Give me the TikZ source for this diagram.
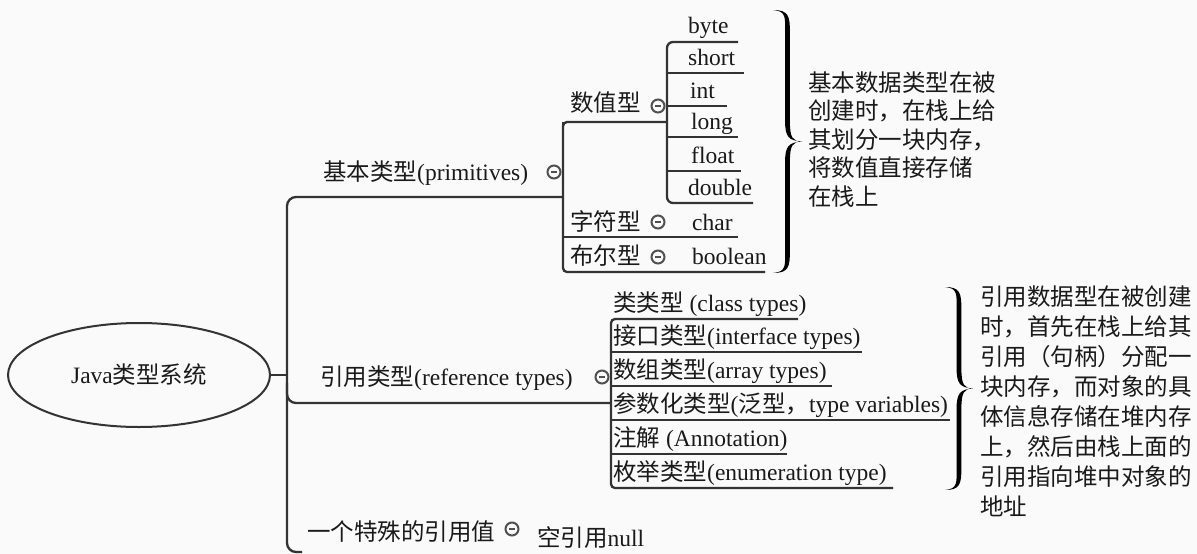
\documentclass[tikz,border=0pt]{standalone}
\usepackage{fontspec}
\setmainfont{Liberation Serif}
\newfontfamily\cjk{Noto Sans CJK SC}
\usetikzlibrary{shapes.geometric}
\newcommand\zh[1]{{\cjk #1}}
\definecolor{ln}{HTML}{333333}
\definecolor{tx}{HTML}{1A1A1A}
\definecolor{bg}{HTML}{FAFAFA}
\definecolor{cc}{HTML}{505050}
\tikzset{
  lbl/.style={anchor=base west, inner sep=0pt, text=tx, font=\fontsize{23.5}{28}\selectfont},
  tree/.style={draw=ln, line width=2.3pt},
  collapse/.style={circle, draw=cc, line width=2pt, minimum size=13pt, inner sep=0pt,
    path picture={\draw[cc, line width=1.8pt] ([xshift=-3pt]path picture bounding box.center) -- ([xshift=3pt]path picture bounding box.center);}},
}
% tapered right curly brace: x, top y, bottom y, width
\newcommand\mybracefill[4]{%
  \pgfmathsetmacro\bxm{#1+#4/2}%
  \pgfmathsetmacro\bym{(#2+#3)/2}%
  \fill[black] (#1,#2) .. controls ({\bxm+1},#2) and ({\bxm+2.4},{#2+6}) .. ({\bxm+2.4},{#2+22})
    -- ({\bxm+2.4},{\bym-20}) .. controls ({\bxm+2.4},{\bym-4}) and ({\bxm+5},\bym) .. ({#1+#4},\bym)
    .. controls ({\bxm+5},\bym) and ({\bxm+2.4},{\bym+4}) .. ({\bxm+2.4},{\bym+20})
    -- ({\bxm+2.4},{#3-22}) .. controls ({\bxm+2.4},{#3-6}) and ({\bxm+1},#3) .. (#1,#3)
    .. controls ({\bxm-1},{#3-1}) and ({\bxm-2.4},{#3-8}) .. ({\bxm-2.4},{#3-22})
    -- ({\bxm-2.4},{\bym+20}) .. controls ({\bxm-2.4},{\bym+5}) and ({\bxm+1},{\bym+0.8}) .. ({#1+#4},\bym)
    .. controls ({\bxm+1},{\bym-0.8}) and ({\bxm-2.4},{\bym-5}) .. ({\bxm-2.4},{\bym-20})
    -- ({\bxm-2.4},{#2+22}) .. controls ({\bxm-2.4},{#2+8}) and ({\bxm-1},{#2+1}) .. (#1,#2) -- cycle;}
\begin{document}
\begin{tikzpicture}[x=1pt, y=-1pt]
\fill[bg] (0,0) rectangle (1197,554);
\useasboundingbox (0,0) rectangle (1197,554);

% root
\node[ellipse, draw=ln, line width=2pt, minimum width=262pt, minimum height=104pt, inner sep=0pt,
  text=tx, font=\fontsize{23.5}{28}\selectfont] (root) at (139,375) {Java\zh{类型系统}};

% level 1 labels
\node[lbl] (prim) at (323,180) {\zh{基本类型}(primitives)};
\node[collapse] (cprim) at (554,172) {};
\node[lbl] (ref) at (320,385) {\zh{引用类型}(reference types)};
\node[collapse] (cref) at (602,377) {};
\node[lbl] (spec) at (307,540) {\zh{一个特殊的引用值}};
\node[collapse] (cspec) at (512,529) {};
\node[lbl] (nul) at (537,546) {\zh{空引用}null};

% primitives children
\node[lbl] (num) at (570,111) {\zh{数值型}};
\node[collapse] (cnum) at (658,106) {};
\node[lbl] (chr) at (570,230) {\zh{字符型}};
\node[collapse] (cchr) at (658,222) {};
\node[lbl] (chrv) at (692,230) {char};
\node[lbl] (boo) at (570,264) {\zh{布尔型}};
\node[collapse] (cboo) at (658,257) {};
\node[lbl] (boov) at (692,264) {boolean};

% numeric children
\node[lbl] (nbyte) at (688,34) {byte};
\node[lbl] (nshort) at (688,65) {short};
\node[lbl] (nint) at (690,98) {int};
\node[lbl] (nlong) at (691,129) {long};
\node[lbl] (nfloat) at (691,163) {float};
\node[lbl] (ndouble) at (688,195) {double};

% reference children
\node[lbl] (r1) at (613,311) {\zh{类类型} (class types)};
\node[lbl] (r2) at (613,344) {\zh{接口类型}(interface types)};
\node[lbl] (r3) at (613,378) {\zh{数组类型}(array types)};
\node[lbl] (r4) at (613,412) {\zh{参数化类型}(\zh{泛型，}type variables)};
\node[lbl] (r5) at (613,446) {\zh{注解} (Annotation)};
\node[lbl] (r6) at (613,480) {\zh{枚举类型}(enumeration type)};

% junction coordinates
\coordinate (tx) at (287,375);
\coordinate (t1) at (287,197);
\coordinate (t3) at (287,552);
\coordinate (t3e) at (302,552);
\coordinate (p0) at (563,197);
\coordinate (pTop) at (563,122);
\coordinate (pBot) at (563,272);
\coordinate (pChr) at (563,237);
\coordinate (nEnd) at (667,122);
\coordinate (nTop) at (667,42);
\coordinate (nBot) at (667,203);
\coordinate (rJ) at (611,403);
\coordinate (rTop) at (611,319);
\coordinate (rBot) at (611,488);

% connectors
\draw[tree] (root.east) -- (tx);
\draw[tree, rounded corners=9pt] (p0) -- (t1) -- (t3) -- (t3e);
\draw[tree, rounded corners=9pt] (287,383) -- (287,403) -- (rJ);

\draw[tree] (p0) -- (pTop);
\draw[tree, rounded corners=4pt] (nEnd) -- (pTop) -- (pBot) -- (765,272);
\draw[tree] (pChr) -- (738,237);

\draw[tree, rounded corners=6pt] (738,42) -- (nTop) -- (nBot) -- (753,203);
\draw[tree] (667,73) -- (744,73);
\draw[tree] (667,106) -- (727,106);
\draw[tree] (667,137) -- (738,137);
\draw[tree] (667,171) -- (741,171);

\draw[tree, rounded corners=4pt] (798,319) -- (rTop) -- (rBot) -- (893,488);
\draw[tree] (611,352) -- (862,352);
\draw[tree] (611,386) -- (832,386);
\draw[tree] (611,420) -- (950,420);
\draw[tree] (611,454) -- (787,454);

% braces
\mybracefill{773}{10}{273}{29}
\mybracefill{945}{287}{490}{28}

% notes
\foreach \t [count=\i from 0] in {基本数据类型在被, 创建时，在栈上给, 其划分一块内存，, 将数值直接存储, 在栈上}
  \node[lbl] (na\i) at (808,91+28.5*\i) {\zh{\t}};
\foreach \t [count=\i from 0] in {引用数据型在被创建, 时，首先在栈上给其, 引用（句柄）分配一, 块内存，而对象的具, 体信息存储在堆内存, 上，然后由栈上面的, 引用指向堆中对象的, 地址}
  \node[lbl] (nb\i) at (980,305+30*\i) {\zh{\t}};
\end{tikzpicture}
\end{document}
